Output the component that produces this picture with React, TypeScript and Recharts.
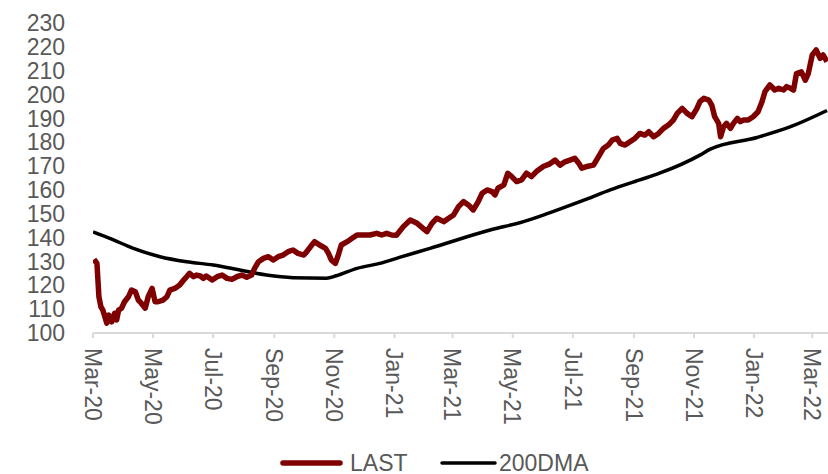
import React from "react";
import { LineChart, Line, XAxis, YAxis, Legend } from "recharts";

const lastDates = [
  "2020-03-02","2020-03-05","2020-03-07","2020-03-09","2020-03-11","2020-03-15","2020-03-17","2020-03-20","2020-03-23","2020-03-25",
  "2020-03-27","2020-03-30","2020-04-02","2020-04-06","2020-04-09","2020-04-13","2020-04-16","2020-04-19","2020-04-23","2020-04-26",
  "2020-04-30","2020-05-03","2020-05-06","2020-05-11","2020-05-15","2020-05-18","2020-05-23","2020-05-28","2020-06-01","2020-06-04",
  "2020-06-07","2020-06-11","2020-06-14","2020-06-18","2020-06-21","2020-06-24","2020-06-30","2020-07-05","2020-07-10","2020-07-15",
  "2020-07-20","2020-07-25","2020-07-30","2020-08-04","2020-08-09","2020-08-12","2020-08-16","2020-08-21","2020-08-26","2020-08-31",
  "2020-09-05","2020-09-10","2020-09-15","2020-09-20","2020-09-25","2020-10-01","2020-10-04","2020-10-09","2020-10-12","2020-10-17",
  "2020-10-23","2020-10-26","2020-10-29","2020-11-02","2020-11-05","2020-11-08","2020-11-14","2020-11-19","2020-11-24","2020-11-30",
  "2020-12-07","2020-12-14","2020-12-19","2020-12-24","2020-12-29","2021-01-03","2021-01-10","2021-01-17","2021-01-24","2021-01-30",
  "2021-02-03","2021-02-08","2021-02-13","2021-02-20","2021-02-25","2021-03-02","2021-03-07","2021-03-12","2021-03-17","2021-03-22",
  "2021-03-27","2021-03-31","2021-04-05","2021-04-10","2021-04-13","2021-04-16","2021-04-22","2021-04-26","2021-04-30","2021-05-05",
  "2021-05-10","2021-05-15","2021-05-20","2021-05-25","2021-06-01","2021-06-07","2021-06-13","2021-06-18","2021-06-23","2021-06-28",
  "2021-07-03","2021-07-07","2021-07-10","2021-07-15","2021-07-22","2021-07-27","2021-08-01","2021-08-06","2021-08-10","2021-08-15",
  "2021-08-18","2021-08-23","2021-08-28","2021-09-02","2021-09-07","2021-09-12","2021-09-16","2021-09-21","2021-09-26","2021-10-01",
  "2021-10-06","2021-10-11","2021-10-15","2021-10-20","2021-10-25","2021-10-30","2021-11-04","2021-11-07","2021-11-11","2021-11-16",
  "2021-11-19","2021-11-22","2021-11-26","2021-11-28","2021-12-01","2021-12-04","2021-12-08","2021-12-11","2021-12-15","2021-12-18",
  "2021-12-21","2021-12-26","2021-12-31","2022-01-05","2022-01-09","2022-01-12","2022-01-17","2022-01-22","2022-01-26","2022-01-31",
  "2022-02-03","2022-02-07","2022-02-10","2022-02-13","2022-02-18","2022-02-22","2022-02-25","2022-03-01","2022-03-05","2022-03-09",
  "2022-03-12","2022-03-16",
];

const lastValues = [
  130.9,129.2,115.2,111.0,109.6,104.1,107.5,104.7,108.3,105.5,
  109.6,110.4,113.1,115.2,118.0,117.3,113.8,112.5,110.4,115.2,
  118.7,113.1,113.1,113.8,115.2,118.0,118.7,120.1,122.2,123.6,
  125.0,123.6,124.3,123.9,122.9,123.9,122.2,123.6,124.3,122.9,
  122.5,123.6,124.3,123.4,124.3,127.1,129.9,131.3,132.0,130.6,
  132.0,132.7,134.1,134.8,133.4,132.7,134.1,136.9,138.3,136.9,
  135.5,133.4,130.6,129.2,132.7,136.9,138.3,139.7,141.1,141.1,
  141.1,141.8,141.1,141.8,141.1,141.0,144.6,147.4,146.0,143.9,
  142.5,146.0,148.1,146.7,148.1,149.5,153.0,155.1,153.7,151.6,
  155.1,158.6,160.0,159.3,157.9,160.7,162.1,167.0,165.6,163.5,
  164.2,167.0,165.6,167.7,169.8,170.8,172.5,170.4,171.8,172.5,
  173.3,171.2,169.1,169.8,170.4,173.9,177.4,178.8,180.9,181.6,
  179.5,178.8,180.2,181.6,183.7,183.0,184.4,182.3,183.7,185.8,
  187.2,189.3,192.1,194.2,192.1,190.7,194.2,197.0,198.4,197.7,
  195.6,190.7,187.9,182.3,186.5,187.9,185.8,187.9,190.0,188.6,
  189.3,189.3,190.7,192.8,197.0,201.2,204.0,201.9,202.6,201.9,
  203.3,202.6,201.9,208.8,209.5,206.0,208.8,216.6,218.7,215.2,
  216.6,213.8,
];

const dmaDates = [
  "2020-03-01","2020-03-18","2020-04-11","2020-05-08","2020-06-04","2020-07-01","2020-07-28","2020-08-24","2020-09-20","2020-10-24",
  "2020-11-03","2020-11-24","2020-12-17","2021-01-06","2021-02-06","2021-04-08","2021-05-12","2021-06-08","2021-07-15","2021-08-08",
  "2021-09-07","2021-09-27","2021-11-07","2021-11-17","2022-01-04","2022-02-07","2022-03-16",
];

const dmaValues = [
  142.4,139.7,135.5,132.0,129.9,128.5,126.4,124.3,123.2,123.0,
  124.0,127.1,129.2,131.7,135.5,143.2,146.7,150.5,156.1,160.0,
  164.2,167.0,174.6,177.0,182.0,186.5,193.3,
];

const tickDates = [
  "2020-03-01","2020-05-01","2020-07-01","2020-09-01","2020-11-01","2021-01-01","2021-03-01",
  "2021-05-01","2021-07-01","2021-09-01","2021-11-01","2022-01-01","2022-03-01",
];
const tickLabels = [
  "Mar-20","May-20","Jul-20","Sep-20","Nov-20","Jan-21","Mar-21",
  "May-21","Jul-21","Sep-21","Nov-21","Jan-22","Mar-22",
];
const yTicks = [100,110,120,130,140,150,160,170,180,190,200,210,220,230];

const toT = (s: string) => Date.parse(s + "T00:00:00Z");
const lastData = lastDates.map((d, i) => ({ t: toT(d), LAST: lastValues[i] }));
const dmaData = dmaDates.map((d, i) => ({ t: toT(d), DMA: dmaValues[i] }));
const xTicks = tickDates.map(toT);
const labelOf: Record<number, string> = {};
xTicks.forEach((t, i) => (labelOf[t] = tickLabels[i]));

const FONT = "'Liberation Sans', Arial, sans-serif";
const GREY = "#595959";
const RED = "#7f0000";

const XTick = (props: any) => {
  const { x, y, payload } = props;
  return (
    <g transform={`translate(${x},${y})`}>
      <text
        transform="rotate(90)"
        x={0}
        y={0}
        dy="0.36em"
        textAnchor="start"
        fill={GREY}
        fontSize={23}
        fontFamily={FONT}
      >
        {labelOf[payload.value]}
      </text>
    </g>
  );
};

const LegendContent = () => (
  <svg width={828} height={24} style={{ display: "block" }}>
    <line x1={283} x2={340} y1={13} y2={13} stroke={RED} strokeWidth={5.5} strokeLinecap="round" />
    <text x={350} y={13} dy="0.36em" fill={GREY} fontSize={23} fontFamily={FONT}>LAST</text>
    <line x1={442} x2={495} y1={13} y2={13} stroke="#000" strokeWidth={3.5} strokeLinecap="round" />
    <text x={499} y={13} dy="0.36em" fill={GREY} fontSize={23} fontFamily={FONT}>200DMA</text>
  </svg>
);

export default function App() {
  return (
    <div style={{ position: "absolute", left: 0, top: 0, width: 828, height: 474, background: "#fff" }}>
      <LineChart width={828} height={474} margin={{ top: 23, right: 0, left: 0, bottom: 0 }}>
        <XAxis
          dataKey="t"
          type="number"
          domain={[toT("2020-03-01"), toT("2022-03-17")]}
          ticks={xTicks}
          interval={0}
          allowDataOverflow
          height={141}
          stroke="#d9d9d9"
          strokeWidth={2}
          tickSize={5}
          tickMargin={10}
          tick={<XTick />}
        />
        <YAxis
          type="number"
          domain={[100, 230]}
          ticks={yTicks}
          interval={0}
          width={93}
          axisLine={false}
          tickLine={false}
          tickSize={0}
          tickMargin={28}
          tick={{ fill: GREY, fontSize: 23, fontFamily: FONT }}
        />
        <Legend
          layout="horizontal"
          verticalAlign="middle"
          align="center"
          wrapperStyle={{ top: 450, left: 0, width: 828 }}
          content={<LegendContent />}
        />
        <Line
          data={dmaData}
          dataKey="DMA"
          name="200DMA"
          type="monotone"
          stroke="#000"
          strokeWidth={3.5}
          dot={false}
          isAnimationActive={false}
        />
        <Line
          data={lastData}
          dataKey="LAST"
          name="LAST"
          type="linear"
          stroke={RED}
          strokeWidth={5.5}
          strokeLinejoin="round"
          dot={false}
          isAnimationActive={false}
        />
      </LineChart>
    </div>
  );
}
